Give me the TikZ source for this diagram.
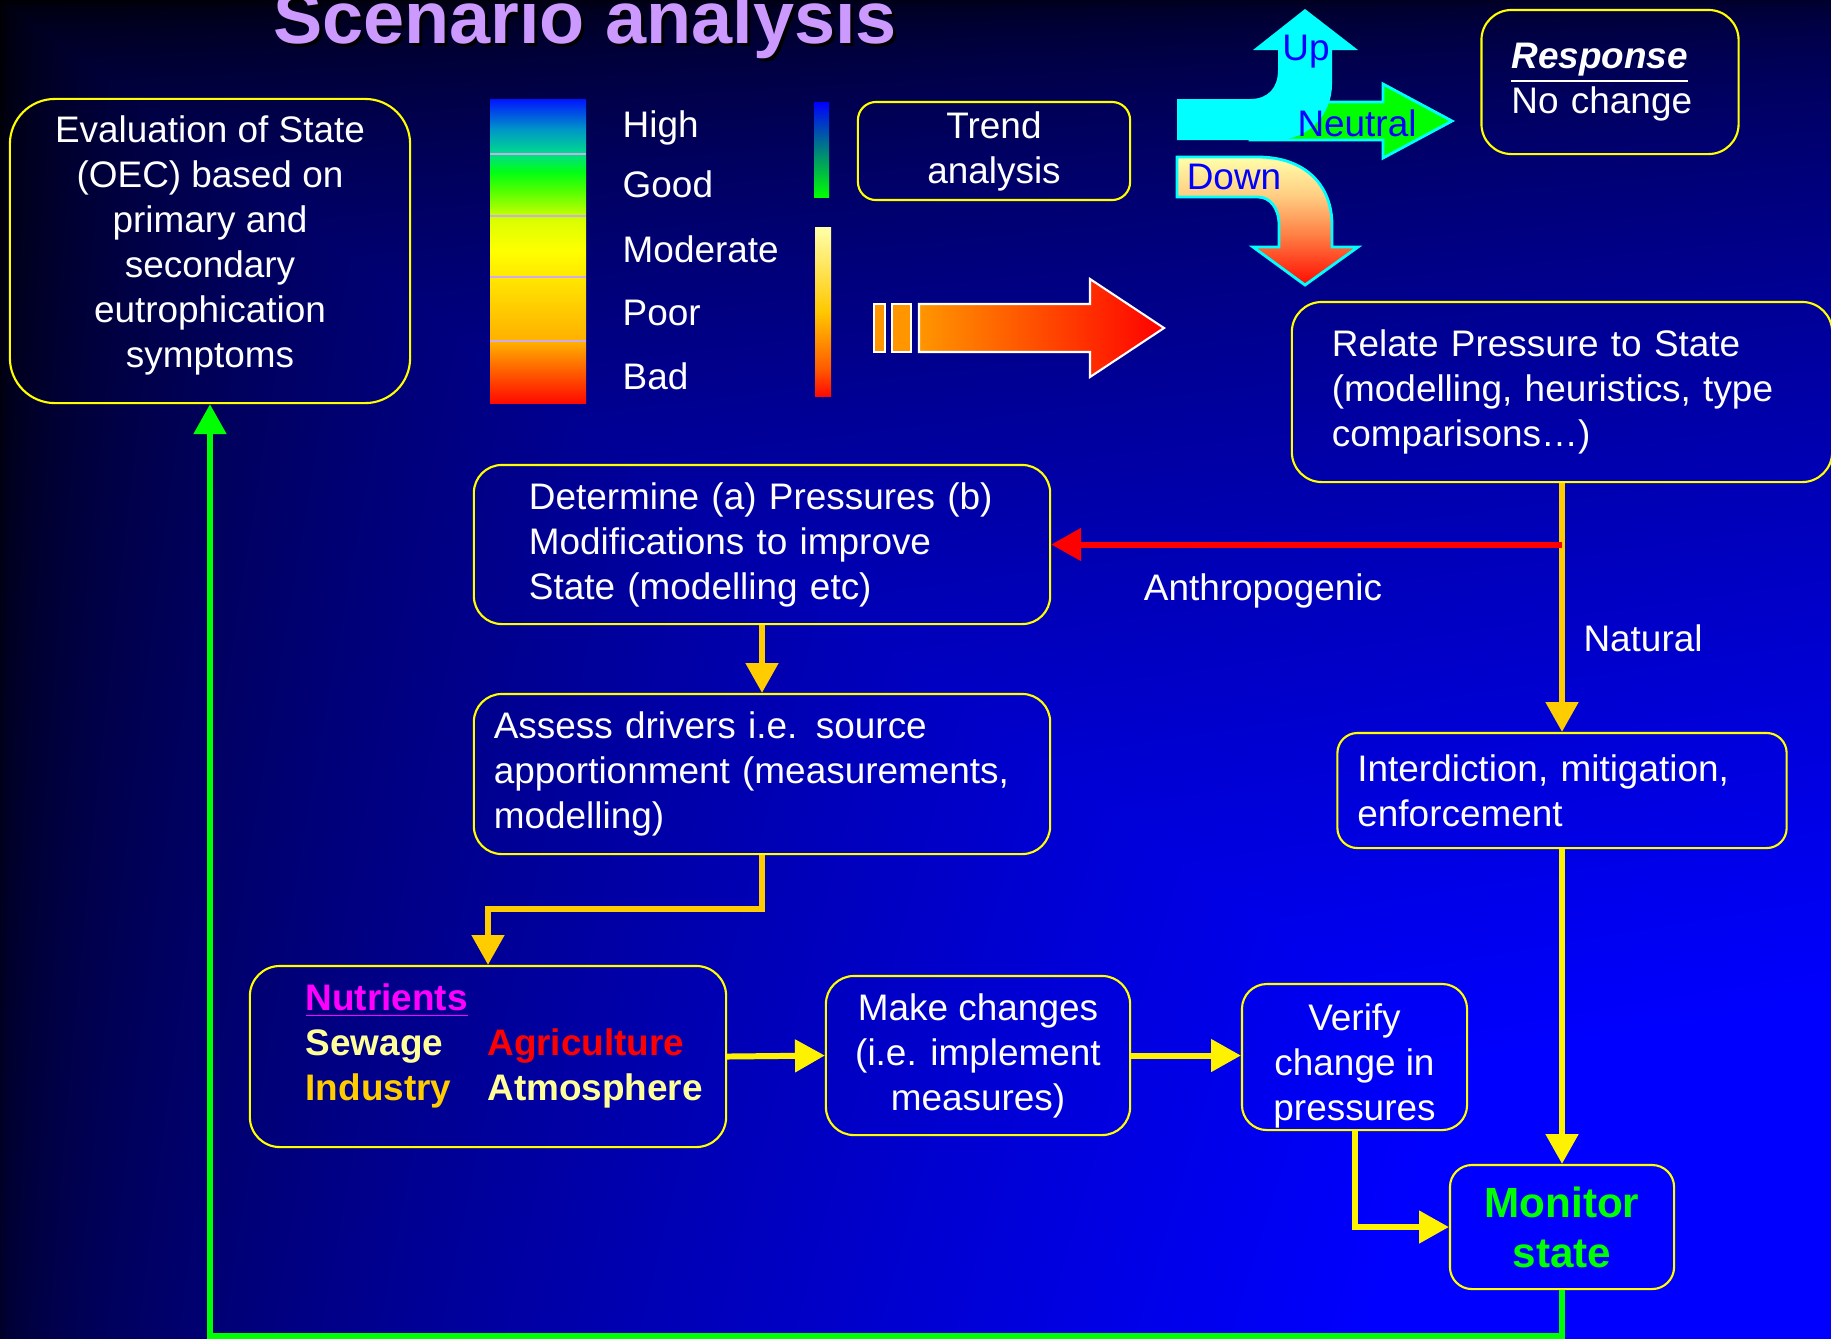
\documentclass[tikz,border=0pt]{standalone}
\usepackage{fontspec}
\setmainfont{Liberation Sans}
\usepackage{tikz}
\usetikzlibrary{positioning,arrows.meta,calc}

\definecolor{boxline}{RGB}{255,255,0}
\definecolor{goldline}{RGB}{255,204,0}
\definecolor{lilac}{RGB}{204,153,255}
\definecolor{paleyellow}{RGB}{255,255,153}
\definecolor{sepline}{RGB}{204,170,235}
\definecolor{trendblue}{RGB}{0,0,255}
\definecolor{trendcyan}{RGB}{0,255,255}
\definecolor{pinkish}{RGB}{255,0,255}
\definecolor{arrowstart}{RGB}{255,150,0}
% colour stops of the quality scale
\definecolor{qa}{RGB}{255,10,0}
\definecolor{qb}{RGB}{255,90,0}
\definecolor{qc}{RGB}{255,175,0}
\definecolor{qd}{RGB}{255,200,0}
\definecolor{qe}{RGB}{255,230,0}
\definecolor{qf}{RGB}{255,255,0}
\definecolor{qg}{RGB}{220,255,0}
\definecolor{qh}{RGB}{80,255,0}
\definecolor{qi}{RGB}{0,255,20}
\definecolor{qj}{RGB}{0,220,140}
\definecolor{qk}{RGB}{0,150,200}
\definecolor{ql}{RGB}{0,20,255}
\definecolor{palelemon}{RGB}{255,255,170}
\definecolor{peach}{RGB}{255,205,130}
\definecolor{salmon}{RGB}{255,130,70}
\definecolor{tealmid}{RGB}{0,160,200}

\pgfdeclareverticalshading{qualitybar}{100bp}{
  color(0bp)=(qa); color(25bp)=(qa); color(30bp)=(qb); color(35bp)=(qc);
  color(40bp)=(qd); color(45.5bp)=(qe); color(50bp)=(qf); color(55bp)=(qg);
  color(60bp)=(qh); color(63bp)=(qi); color(66bp)=(qj); color(70bp)=(qk);
  color(75bp)=(ql); color(100bp)=(ql)}
\pgfdeclareverticalshading{declinebar}{100bp}{
  color(0bp)=(qa); color(25bp)=(qa); color(33bp)=(qb); color(50bp)=(qd);
  color(75bp)=(palelemon); color(100bp)=(palelemon)}
\pgfdeclareverticalshading{downfill}{100bp}{
  color(0bp)=(qa); color(25bp)=(qa); color(45bp)=(salmon); color(60bp)=(peach);
  color(75bp)=(palelemon); color(100bp)=(palelemon)}

% slide background: dark far corner, bright blue lower right
\pgfdeclarefunctionalshading{slidebg}{\pgfpoint{-50bp}{-50bp}}{\pgfpoint{50bp}{50bp}}{}{
  25 exch sub 50 div
  exch 25 add 50 div
  2 copy add 2 div
  3 1 roll
  2 copy gt {exch} if pop
  dup 0 lt {pop 0} if
  sqrt 0.85 mul exch 0.3 mul add
  dup 0 lt {pop 0} if
  dup 1 gt {pop 1} if
  0 0 3 -1 roll
}

% centred lines, nudged up or down inside their box
\newcommand{\nudged}[2]{\raisebox{#1}[\height][\depth]{\begin{tabular}{@{}c@{}}#2\end{tabular}}}

\begin{document}
\begin{tikzpicture}[
  x=0.01cm, y=-0.01cm,
  box/.style={draw=boxline, line width=0.6pt, text=white, inner sep=0pt,
              font=\fontsize{10.5}{12.8}\selectfont, rounded corners=0.28cm},
  plain/.style={text=white, inner sep=0pt, font=\fontsize{10.5}{12.8}\selectfont},
  trendtext/.style={text=trendblue, inner sep=0pt, font=\fontsize{10.5}{12.8}\selectfont},
  flow/.style={line width=1.7pt, -{Triangle[width=9pt,length=8.5pt]}},
]
  \useasboundingbox (0,0) rectangle (1831,1338);
  \shade[shading=slidebg] (0,0) rectangle (1831,1338);

  % --- Title ---
  \node[anchor=base, text=black, inner sep=0pt, font=\fontsize{21}{25}\selectfont\bfseries]
    (titleshadow) at (588,46) {Scenario analysis};
  \node[anchor=base, text=lilac, inner sep=0pt, font=\fontsize{21}{25}\selectfont\bfseries]
    (title) at (585,43) {Scenario analysis};

  % --- State evaluation ---
  \node[box, minimum width=4.0cm, minimum height=3.04cm, rounded corners=0.45cm]
    (eval) at (210,251)
    {\nudged{1.3pt}{Evaluation of State\\(OEC) based on\\primary and\\secondary\\eutrophication\\symptoms}};

  % --- Quality scale ---
  \shade[shading=qualitybar] (490,99) rectangle (586,403);
  \foreach \y in {154,216,277,341}
    \draw[sepline, line width=0.8pt] (490,\y) -- (586,\y);
  \foreach \name/\y in {High/128, Good/184, Moderate/249, Poor/313, Bad/376}
    \node[plain, anchor=west] (q-\name) at (622,\y) {\name};

  % --- Trend bars and trend box ---
  \shade[top color=trendblue, middle color=tealmid, bottom color=green] (814,102) rectangle (829,197);
  \shade[shading=declinebar] (815,227) rectangle (831,396);
  \node[box, minimum width=2.72cm, minimum height=0.98cm, rounded corners=0.18cm, align=center]
    (trend) at (994,151) {Trend\\analysis};

  % --- Big arrow ---
  \filldraw[fill=arrowstart, draw=white, line width=0.6pt] (874,304) rectangle (885,352);
  \filldraw[fill=arrowstart, draw=white, line width=0.6pt] (892,304) rectangle (911,352);
  \shadedraw[left color=arrowstart, right color=red, draw=white, line width=0.6pt]
    (919,304) -- (1090,304) -- (1090,279) -- (1164,328) -- (1090,377) -- (1090,352) -- (919,352) -- cycle;

  % --- Trend arrows ---
  \filldraw[fill=green, draw=trendcyan, line width=0.8pt]
    (1250,102) -- (1383,102) -- (1383,84) -- (1452,121) -- (1383,158) -- (1383,140) -- (1250,140) -- cycle;
  \fill[trendcyan] (1177,99) -- (1250,99) .. controls (1268,99) and (1278,88) .. (1278,70)
    -- (1278,50) -- (1253,50) -- (1305,9) -- (1358,50) -- (1332,50) -- (1332,84)
    .. controls (1332,115) and (1308,140) .. (1276,140) -- (1177,140) -- cycle;
  \shadedraw[shading=downfill, draw=trendcyan, line width=0.8pt]
    (1177,157) -- (1258,157) .. controls (1305,157) and (1332,185) .. (1332,225)
    -- (1332,247) -- (1358,247) -- (1305,285) -- (1253,247) -- (1279,247) -- (1279,225)
    .. controls (1279,208) and (1270,197) .. (1258,197) -- (1177,197) -- cycle;
  \node[trendtext] (up) at (1306,52) {Up};
  \node[trendtext] (neutral) at (1357,123) {Neutral};
  \node[trendtext] (down) at (1234,177) {Down};

  % --- Response ---
  \node[box, text width=1.97cm, inner xsep=0.3cm, minimum height=1.44cm, rounded corners=0.3cm, align=left]
    (response) at (1610,82) {\underline{\textbf{\textit{Response}}}\\No change};

  % --- Pressure boxes ---
  \node[box, text width=4.6cm, inner xsep=0.4cm, minimum height=1.8cm, rounded corners=0.3cm, align=left]
    (relate) at (1562,392)
    {Relate Pressure to State\\(modelling, heuristics, type\\comparisons…)};
  \node[box, text width=4.66cm, inner xsep=0.55cm, minimum height=1.59cm, align=left]
    (determine) at (762,544.5)
    {Determine (a) Pressures (b)\\Modifications to improve\\State (modelling etc)};
  \node[box, text width=5.36cm, inner xsep=0.2cm, minimum height=1.6cm, align=left]
    (assess) at (762,774)
    {Assess drivers i.e. source\\apportionment (measurements,\\modelling)};
  \node[box, text width=4.09cm, inner xsep=0.2cm, minimum height=1.15cm, rounded corners=0.2cm, align=left]
    (interd) at (1562,790.5) {Interdiction, mitigation,\\enforcement};

  % --- Nutrient sources ---
  \node[box, minimum width=4.76cm, minimum height=1.81cm, rounded corners=0.3cm] (nutr) at (488,1056.5) {};
  \node[anchor=west, inner sep=0pt, font=\fontsize{10.5}{12.8}\selectfont\bfseries] (nutrtext) at (305,1046)
    {\begin{tabular}{@{}l@{\hspace{0.36cm}}l@{}}
       \multicolumn{2}{@{}l@{}}{\textcolor{pinkish}{\underline{Nutrients}}}\\
       \textcolor{paleyellow}{Sewage} & \textcolor{red}{Agriculture}\\
       \textcolor{goldline}{Industry} & \textcolor{paleyellow}{Atmosphere}
     \end{tabular}};

  % --- Bottom row ---
  \node[box, minimum width=3.04cm, minimum height=1.59cm, align=center]
    (make) at (978,1055.5) {Make changes\\(i.e. implement\\measures)};
  \node[box, minimum width=2.25cm, minimum height=1.46cm, rounded corners=0.25cm]
    (verify) at (1354.5,1057) {\nudged{-2.6pt}{Verify\\change in\\pressures}};
  \node[box, minimum width=2.24cm, minimum height=1.24cm, rounded corners=0.22cm, align=center,
        text=green, font=\fontsize{12}{14.2}\selectfont\bfseries]
    (monitor) at (1562,1227) {Monitor\\state};

  % --- Branch labels ---
  \node[plain] (anthro) at (1263,591) {Anthropogenic};
  \node[plain] (natural) at (1643,638) {Natural};

  % --- Connectors ---
  \draw[flow, goldline] (relate.south) -- (interd.north);
  \coordinate (fork) at (relate.south |- determine.east);
  \draw[flow, red] (fork) -- (determine.east);
  \draw[flow, goldline] (determine.south) -- (assess.north);
  \draw[flow, goldline] (assess.south) -- ++(0,54) -| (nutr.north);
  \draw[flow, yellow] (nutr.east) -- (make.west);
  \draw[flow, yellow] (make.east) -- (make.east -| verify.west);
  \draw[flow, yellow] (verify.south) |- (monitor.west);
  \draw[flow, yellow] (interd.south) -- (monitor.north);
  \draw[flow, green] (monitor.south) -- ++(0,46) -| (eval.south);

\end{tikzpicture}
\end{document}
